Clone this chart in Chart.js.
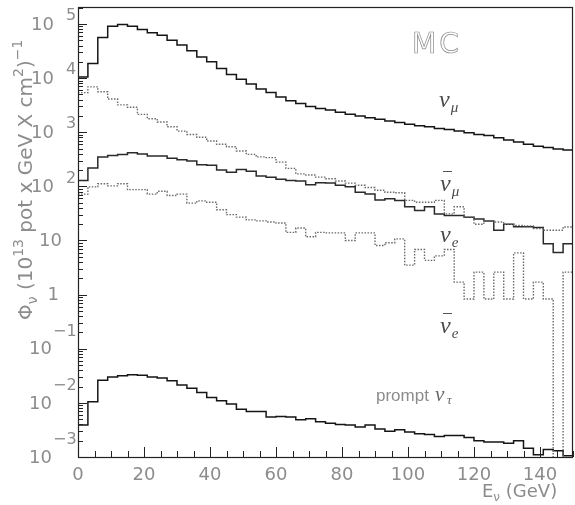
<!DOCTYPE html>
<html>
<head>
<meta charset="utf-8">
<script src="https://cdn.jsdelivr.net/npm/chart.js"></script>
<style>
  body { margin: 0; background: #fff; }
  canvas { display: block; }
</style>
</head>
<body>
<canvas id="fluxChart" width="575" height="505"></canvas>
<script>
// 3 GeV bins from 0 to 150 GeV, flux per bin
const binWidth = 3;
const numuFlux = [10500, 18600, 56000, 91000, 98000, 91000, 79000, 69000, 62000, 50000,
  41000, 32000, 24500, 20000, 15100, 11700, 9500, 7800, 6300, 5400,
  4500, 3800, 3400, 3000, 2750, 2570, 2340, 2140, 2000, 1860,
  1740, 1620, 1510, 1410, 1320, 1260, 1170, 1120, 1050, 980,
  910, 870, 790, 720, 660, 600, 550, 525, 490, 470];
const numubarFlux = [5400, 6900, 5600, 4100, 3200, 2900, 2140, 1780, 1550, 1260,
  1050, 910, 810, 690, 600, 540, 450, 390, 350, 340,
  280, 215, 170, 162, 148, 138, 126, 115, 105, 95,
  85, 78, 76, 55, 51, 51, 55, 31, 42, 27,
  20, 23, 22, 20, 19, 18.6, 16.6, 15.5, 15.5, 17.8];
const nueFlux = [129, 219, 347, 372, 389, 417, 398, 363, 363, 331,
  309, 295, 251, 245, 200, 182, 204, 191, 155, 148,
  135, 129, 126, 107, 117, 115, 105, 98, 78, 72,
  56, 59, 55, 42, 36, 42, 31, 29, 29, 27,
  25, 23, 15.5, 20, 18, 18, 17.4, 8.7, 6.0, 8.7];
const nuebarFlux = [72, 98, 112, 102, 112, 87, 87, 72, 81, 68,
  72, 49, 54, 51, 37, 30, 27, 24, 23, 22,
  21, 14.1, 17, 11.7, 14.1, 13.8, 13.8, 10, 13.8, 13.8,
  8.1, 9.1, 10.7, 3.5, 6.8, 4.3, 5.2, 6.8, 1.7, 0.83,
  2.6, 0.83, 2.6, 0.83, 5.9, 0.83, 1.7, 0.83, 0, 2.6];
const nutauFlux = [0.0039, 0.0105, 0.0263, 0.0302, 0.0316, 0.0331, 0.0324, 0.0302, 0.0288, 0.0257,
  0.0214, 0.0186, 0.0155, 0.0126, 0.0110, 0.0095, 0.0076, 0.0069, 0.0069, 0.0055,
  0.0056, 0.0055, 0.0049, 0.0051, 0.0045, 0.0042, 0.0040, 0.0039, 0.0036, 0.0039,
  0.0033, 0.0030, 0.0032, 0.0029, 0.0027, 0.0026, 0.0024, 0.0025, 0.0025, 0.0023,
  0.0020, 0.0019, 0.0019, 0.0018, 0.0020, 0.00145, 0.0011, 0.00138, 0.0013, 0.00105];

const xTickLabels = [0, 20, 40, 60, 80, 100, 120, 140];
const yDecades = [-3, -2, -1, 0, 1, 2, 3, 4, 5];

// histogram as steps: one point per left bin edge + closing point
function toSteps(vals) {
  const pts = vals.map((v, i) => ({ x: i * binWidth, y: v > 0 ? v : 1e-6 }));
  pts.push({ x: vals.length * binWidth, y: pts[pts.length - 1].y });
  return pts;
}

const solid = (c) => ({ borderColor: c, borderWidth: 1.5, stepped: 'before', pointRadius: 0, fill: false });
const dotted = (c) => ({ borderColor: c, borderWidth: 1.4, borderDash: [1.5, 1.5], stepped: 'before', pointRadius: 0, fill: false });

const TXT = '#8c8c8c';
const NUM_FONT = '"DejaVu Sans", sans-serif';

function richText(ctx, x, y, parts) {
  for (const p of parts) {
    ctx.font = p.font;
    ctx.fillText(p.t, x, y + (p.dy || 0));
    x += ctx.measureText(p.t).width;
  }
  return x;
}

function greekLabel(ctx, x, y, sub, bar) {
  ctx.fillStyle = '#4a4a4a';
  ctx.textAlign = 'left';
  ctx.textBaseline = 'alphabetic';
  ctx.font = 'italic 24px "Liberation Serif", serif';
  ctx.fillText('ν', x, y);
  const w = ctx.measureText('ν').width;
  ctx.font = 'italic 15px "Liberation Serif", serif';
  ctx.fillText(sub, x + w + 1, y + 5);
  if (bar) {
    ctx.strokeStyle = '#555';
    ctx.lineWidth = 1;
    ctx.beginPath();
    ctx.moveTo(x + 3, y - 19.5);
    ctx.lineTo(x + 12, y - 19.5);
    ctx.stroke();
  }
}

const rootFrame = {
  id: 'rootFrame',
  afterDraw(chart) {
    const { ctx, chartArea: a, scales: { x, y } } = chart;
    ctx.save();
    // frame
    ctx.strokeStyle = '#222';
    ctx.lineWidth = 1.2;
    ctx.strokeRect(Math.round(a.left) + 0.5, Math.round(a.top) + 0.5,
      Math.round(a.right - a.left) - 1, Math.round(a.bottom - a.top));
    // y ticks (inside)
    ctx.lineWidth = 1;
    ctx.beginPath();
    for (const e of yDecades) {
      for (let m = 1; m <= 9; m++) {
        const v = m * Math.pow(10, e);
        if (v > y.max) continue;
        const py = Math.round(y.getPixelForValue(v)) + 0.5;
        ctx.moveTo(a.left, py);
        ctx.lineTo(a.left + (m === 1 ? 9 : 5), py);
      }
    }
    // x ticks (inside)
    for (let v = 0; v <= 150; v += 5) {
      const px = Math.round(x.getPixelForValue(v)) + 0.5;
      ctx.moveTo(px, a.bottom);
      ctx.lineTo(px, a.bottom - (v % 20 === 0 ? 10 : 6));
    }
    ctx.stroke();

    // x tick labels
    ctx.fillStyle = TXT;
    ctx.font = '18px ' + NUM_FONT;
    ctx.textAlign = 'center';
    ctx.textBaseline = 'alphabetic';
    for (const v of xTickLabels) {
      ctx.fillText(String(v), x.getPixelForValue(v), 480);
    }
    // x title
    ctx.textAlign = 'left';
    richText(ctx, 482, 497, [
      { t: 'E', font: '18px ' + NUM_FONT },
      { t: 'ν', font: '12px ' + NUM_FONT, dy: 4 },
      { t: ' (GeV)', font: '18px ' + NUM_FONT }
    ]);

    // y tick labels
    for (const e of yDecades) {
      const py = y.getPixelForValue(Math.pow(10, e));
      ctx.font = '18px ' + NUM_FONT;
      ctx.textBaseline = 'middle';
      if (e === 0) {
        ctx.textAlign = 'right';
        ctx.fillText('1', 59, py + 1);
      } else if (e === 1) {
        ctx.textAlign = 'right';
        ctx.fillText('10', 62, py + 1);
      } else if (e > 1) {
        ctx.textAlign = 'right';
        ctx.fillText('10', 54, py + 1);
        ctx.textAlign = 'left';
        ctx.font = '16px ' + NUM_FONT;
        ctx.fillText(String(e), 66, py - 8);
      } else {
        ctx.textAlign = 'right';
        ctx.fillText('10', 52, py + 1);
        ctx.textAlign = 'left';
        ctx.font = '16px ' + NUM_FONT;
        ctx.fillText('\u2212' + String(-e), 53, py - 17);
      }
    }

    // y title, rotated
    ctx.save();
    ctx.translate(32, 320);
    ctx.rotate(-Math.PI / 2);
    ctx.textAlign = 'left';
    ctx.textBaseline = 'alphabetic';
    const big = '20px ' + NUM_FONT, small = '14px ' + NUM_FONT;
    richText(ctx, 0, 0, [
      { t: 'Φ', font: big },
      { t: 'ν', font: small, dy: 5 },
      { t: ' (10', font: big },
      { t: '13', font: small, dy: -9 },
      { t: ' pot x GeV X cm', font: big },
      { t: '2', font: small, dy: -9 },
      { t: ')', font: big },
      { t: '\u22121', font: small, dy: -10 }
    ]);
    ctx.restore();

    // MC, outlined
    ctx.strokeStyle = '#888';
    ctx.lineWidth = 0.7;
    ctx.font = '28px ' + NUM_FONT;
    ctx.letterSpacing = '3px';
    ctx.textAlign = 'left';
    ctx.textBaseline = 'alphabetic';
    ctx.strokeText('MC', 412, 53);
    ctx.letterSpacing = '0px';

    // curve labels
    greekLabel(ctx, 439, 107, 'μ', false);
    greekLabel(ctx, 440, 191, 'μ', true);
    greekLabel(ctx, 440, 242, 'e', false);
    greekLabel(ctx, 440, 333, 'e', true);
    ctx.fillStyle = TXT;
    ctx.font = '17px "Liberation Sans", sans-serif';
    ctx.fillText('prompt', 376, 401);
    ctx.fillStyle = '#666';
    ctx.font = 'italic 21px "Liberation Serif", serif';
    ctx.fillText('ν', 435, 401);
    ctx.font = 'italic 13px "Liberation Serif", serif';
    ctx.fillText('τ', 447, 404);
    ctx.restore();
  }
};

new Chart(document.getElementById('fluxChart').getContext('2d'), {
  type: 'line',
  data: {
    datasets: [
      { label: 'numu', data: toSteps(numuFlux), ...solid('#151515') },
      { label: 'numubar', data: toSteps(numubarFlux), ...dotted('#6a6a6a') },
      { label: 'nue', data: toSteps(nueFlux), ...solid('#2a2a2a') },
      { label: 'nuebar', data: toSteps(nuebarFlux), ...dotted('#6a6a6a') },
      { label: 'nutau', data: toSteps(nutauFlux), ...solid('#151515') }
    ]
  },
  options: {
    responsive: false,
    animation: false,
    devicePixelRatio: 1,
    layout: { padding: { top: 7, right: 2, left: 0, bottom: 0 } },
    plugins: { legend: { display: false }, tooltip: { enabled: false } },
    scales: {
      x: {
        type: 'linear', min: 0, max: 150,
        ticks: { display: false }, grid: { display: false }, border: { display: false },
        afterFit: (s) => { s.height = 48; }
      },
      y: {
        type: 'logarithmic', min: 1e-3, max: 2.06e5,
        ticks: { display: false }, grid: { display: false }, border: { display: false },
        afterFit: (s) => { s.width = 78; }
      }
    }
  },
  plugins: [rootFrame]
});
</script>
</body>
</html>
